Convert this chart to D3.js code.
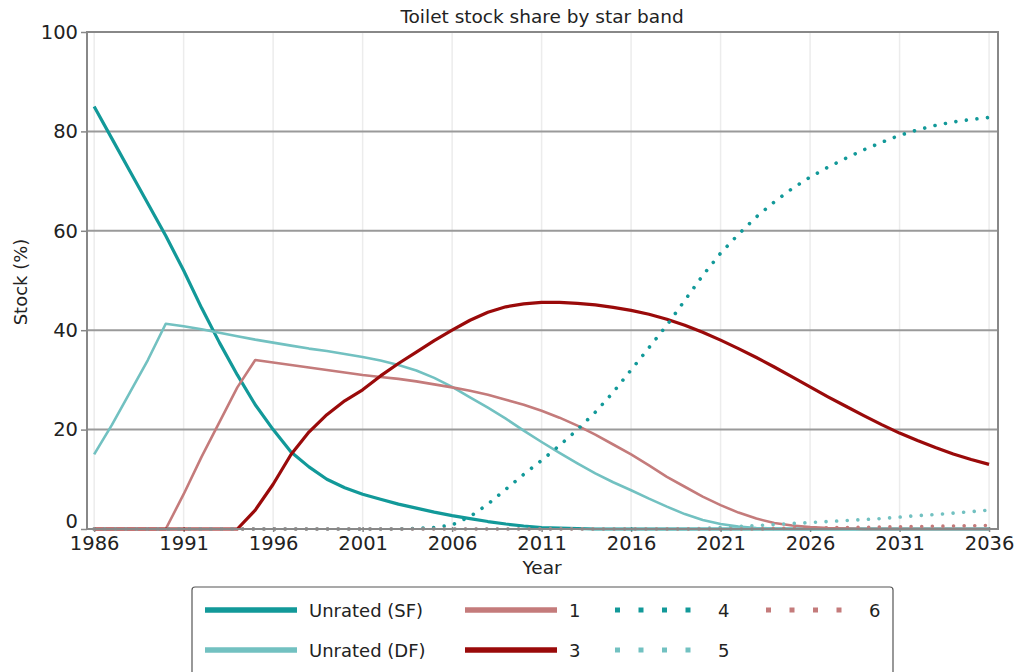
<!DOCTYPE html>
<html><head><meta charset="utf-8">
<script src="https://cdn.jsdelivr.net/npm/d3@7"></script>
<style>body{margin:0;background:#fff;font-family:"DejaVu Sans",sans-serif;}</style>
</head><body><svg id="c" width="1017" height="672"></svg>
<script>
const years = d3.range(1986, 2037);
const xTicks = [1986,1991,1996,2001,2006,2011,2016,2021,2026,2031,2036];
const yTicks = [0,20,40,60,80,100];
const seriesNames = ["Unrated (SF)","Unrated (DF)","1","3","4","5","6"];
const unratedSF = [85,78.5,72,65.5,59,52,44.5,37.5,31,25,20,15.5,12.5,10,8.3,7,6,5,4.2,3.4,2.7,2.1,1.5,1,0.6,0.3,0.2,0.1,0,0,0,0,0,0,0,0,0,0,0,0,0,0,0,0,0,0,0,0,0,0,0];
const unratedDF = [15,21,27.5,34,41.3,40.8,40.2,39.5,38.8,38.1,37.5,36.9,36.3,35.8,35.2,34.6,33.9,33.0,31.9,30.4,28.6,26.5,24.4,22.2,19.8,17.5,15.3,13.2,11.2,9.4,7.8,6.1,4.5,3,1.8,1,0.5,0.2,0.1,0,0,0,0,0,0,0,0,0,0,0,0];
const band1 = [0,0,0,0,0,7,14.5,21.5,28.5,34,33.5,33,32.5,32,31.5,31,30.6,30.2,29.7,29.1,28.5,27.8,27,26,25,23.8,22.4,20.8,19,17,15,12.8,10.5,8.5,6.5,4.8,3.3,2.1,1.2,0.7,0.4,0.2,0.1,0,0,0,0,0,0,0,0];
const band3 = [0,0,0,0,0,0,0,0,0,3.8,9,15,19.5,23,25.8,28,30.8,33.3,35.6,37.9,40,42,43.6,44.7,45.3,45.6,45.6,45.4,45.1,44.6,44,43.2,42.2,41,39.6,38,36.3,34.5,32.6,30.6,28.6,26.6,24.7,22.8,21,19.3,17.8,16.4,15.1,14,13];
const band4 = [0,0,0,0,0,0,0,0,0,0,0,0,0,0,0,0,0,0,0.1,0.3,0.8,2.5,5,8,11,13.8,16.8,20,23.5,27.5,32,36.5,41,46,51,55.5,59.3,62.8,65.8,68.5,70.8,72.8,74.6,76.3,77.8,79.2,80.3,81.2,81.9,82.4,82.8];
const band5 = [0,0,0,0,0,0,0,0,0,0,0,0,0,0,0,0,0,0,0,0,0,0,0,0,0,0,0,0,0,0,0,0,0,0,0.1,0.3,0.5,0.7,0.9,1.1,1.3,1.5,1.7,1.9,2.1,2.4,2.7,2.9,3.2,3.5,3.8];
const band6 = [0,0,0,0,0,0,0,0,0,0,0,0,0,0,0,0,0,0,0,0,0,0,0,0,0,0,0,0,0,0,0,0,0,0,0,0,0,0,0.1,0.15,0.2,0.25,0.3,0.35,0.4,0.45,0.5,0.55,0.6,0.65,0.7];

const seriesValues = [unratedSF, unratedDF, band1, band3, band4, band5, band6];
const styles = [
  {color:"#129999", w:3.2, dotted:false},
  {color:"#72c1c1", w:2.6, dotted:false},
  {color:"#c47b7b", w:2.6, dotted:false},
  {color:"#9a0a0a", w:3.2, dotted:false},
  {color:"#129999", w:3.6, dotted:true},
  {color:"#72c1c1", w:3.6, dotted:true},
  {color:"#c47b7b", w:3.6, dotted:true}
];

const svg = d3.select("#c");
const L = 87, R = 998, T = 32, B = 529;
const x = d3.scaleLinear().domain([1985.6, 2036.5]).range([L, R]);
const y = d3.scaleLinear().domain([0, 100]).range([B, T]);

// vertical light grid
svg.append("g").selectAll("line").data(xTicks).join("line")
  .attr("x1", d => x(d)).attr("x2", d => x(d)).attr("y1", T).attr("y2", B)
  .attr("stroke", "#ececec").attr("stroke-width", 1.5);
// horizontal grid
svg.append("g").selectAll("line").data(yTicks.filter(d => d > 0 && d < 100)).join("line")
  .attr("x1", L).attr("x2", R).attr("y1", d => y(d)).attr("y2", d => y(d))
  .attr("stroke", "#9a9a9a").attr("stroke-width", 2);

// axes
const xAxis = d3.axisBottom(x).tickValues(xTicks).tickFormat(d3.format("d")).tickSize(5).tickSizeOuter(0);
const gx = svg.append("g").attr("transform", `translate(0,${B})`).call(xAxis);
gx.select(".domain").remove();
gx.selectAll(".tick line").attr("stroke", "#888").attr("stroke-width", 1.5).attr("y1", -2).attr("y2", 3);
gx.selectAll(".tick text").attr("font-family", "DejaVu Sans").attr("font-size", 19.5).attr("fill", "#222").attr("dy", "0.95em").attr("y", 2);

const yAxis = d3.axisLeft(y).tickValues(yTicks).tickSize(6).tickSizeOuter(0);
const gy = svg.append("g").attr("transform", `translate(${L},0)`).call(yAxis);
gy.select(".domain").remove();
gy.selectAll(".tick line").attr("stroke", "#888").attr("stroke-width", 1.5);
gy.selectAll(".tick text").attr("font-family", "DejaVu Sans").attr("font-size", 19.5).attr("fill", "#222").attr("x", -9);
gy.selectAll(".tick").filter(d => d === 0).select("text").attr("dy", "-0.08em");

// lines
const line = d3.line().x((d, i) => x(years[i])).y(d => y(d));
seriesValues.forEach((vals, i) => {
  const s = styles[i];
  const p = svg.append("path").datum(vals).attr("d", line)
    .attr("fill", "none").attr("stroke", s.color).attr("stroke-width", s.w);
  if (s.dotted) p.attr("stroke-dasharray", "0.01,10.6").attr("stroke-linecap", "round");
  else p.attr("stroke-linejoin", "round");
});

// frame
svg.append("rect").attr("x", L).attr("y", T).attr("width", R - L).attr("height", B - T)
  .attr("fill", "none").attr("stroke", "#888").attr("stroke-width", 2);

// title & labels
svg.append("text").attr("x", 542).attr("y", 23).attr("text-anchor", "middle")
  .attr("font-family", "DejaVu Sans").attr("font-size", 18.5).attr("fill", "#222").text("Toilet stock share by star band");
svg.append("text").attr("x", 542).attr("y", 574).attr("text-anchor", "middle")
  .attr("font-family", "DejaVu Sans").attr("font-size", 18.5).attr("fill", "#222").text("Year");
svg.append("text").attr("transform", "translate(27,282) rotate(-90)").attr("text-anchor", "middle")
  .attr("font-family", "DejaVu Sans").attr("font-size", 18).attr("fill", "#222").text("Stock (%)");

// legend
const lg = svg.append("g");
lg.append("rect").attr("x", 192).attr("y", 587).attr("width", 701).attr("height", 100)
  .attr("fill", "#fff").attr("stroke", "#555").attr("stroke-width", 1.2).attr("rx", 3);
const colX = [205, 465, 614, 765];
const rowY = [610, 650];
const order = [0, 1, 2, 3, 4, 5, 6];
order.forEach((si, k) => {
  const c = Math.floor(k / 2), r = k % 2;
  const s = styles[si];
  const lx = colX[c], ly = rowY[r];
  const seg = lg.append("line").attr("x1", lx).attr("x2", lx + 92).attr("y1", ly).attr("y2", ly)
    .attr("stroke", s.color).attr("stroke-width", s.dotted ? 5 : 5.5);
  if (s.dotted) seg.attr("stroke-dasharray", "5,18.5").attr("x1", lx + 1).attr("x2", lx + 92);
  lg.append("text").attr("x", lx + 104).attr("y", ly + 6.5).attr("font-family", "DejaVu Sans")
    .attr("font-size", 18).attr("fill", "#222").text(seriesNames[si]);
});
</script></body></html>
